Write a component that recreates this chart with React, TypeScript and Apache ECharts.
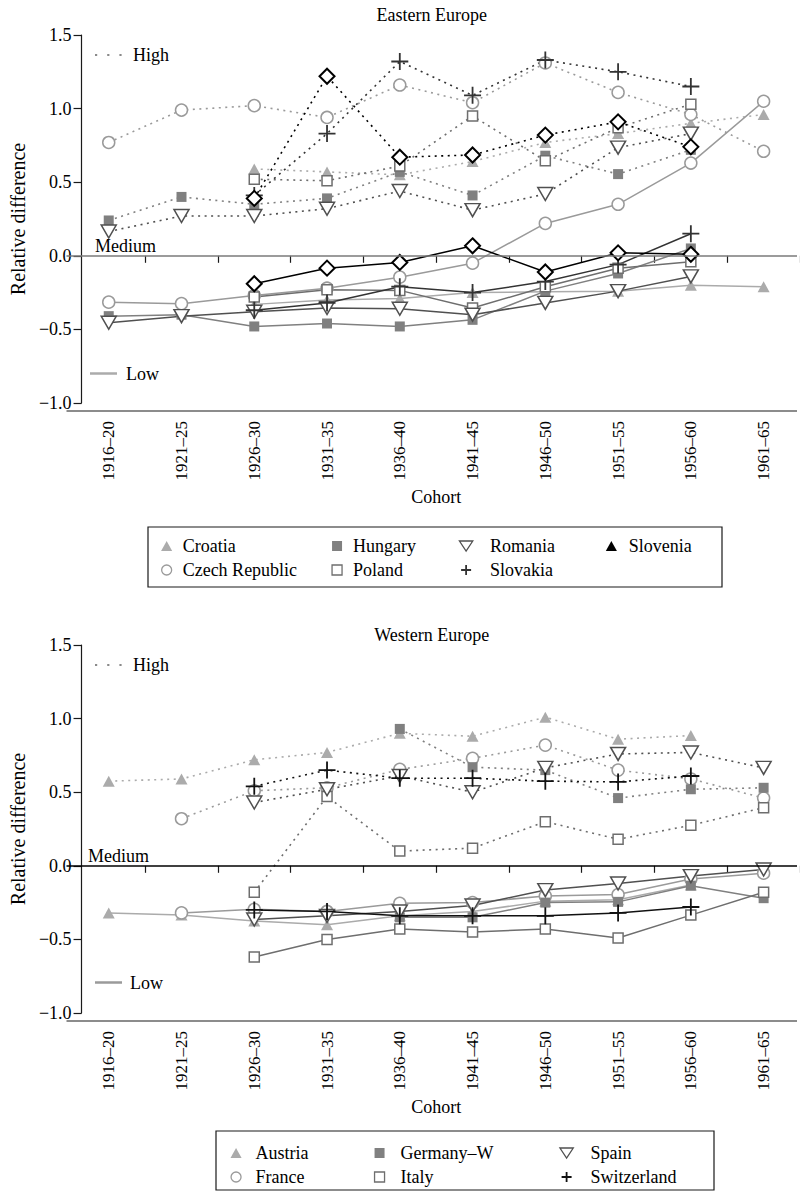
import React, { useEffect, useRef } from 'react';
import * as echarts from 'echarts';

// ---------- data ----------
const cohorts = ['1916–20', '1921–25', '1926–30', '1931–35', '1936–40', '1941–45', '1946–50', '1951–55', '1956–60', '1961–65'];
const panelTitles = ['Eastern Europe', 'Western Europe'];
const yMin = -1.0;
const yMax = 1.5;
const yStep = 0.5;

// Eastern Europe, High (dotted)
const croatiaHigh = [null, null, 0.59, 0.57, 0.55, 0.64, 0.77, 0.83, 0.90, 0.96];
const czechHigh = [0.77, 0.99, 1.02, 0.94, 1.16, 1.04, 1.31, 1.11, 0.96, 0.71];
const hungaryHigh = [0.24, 0.40, 0.35, 0.39, 0.57, 0.41, 0.68, 0.555, 0.72, null];
const polandHigh = [null, null, 0.52, 0.51, 0.61, 0.95, 0.645, 0.87, 1.03, null];
const romaniaHigh = [0.165, 0.27, 0.27, 0.32, 0.44, 0.31, 0.42, 0.735, 0.83, null];
const slovakiaHigh = [null, null, 0.41, 0.83, 1.32, 1.09, 1.33, 1.25, 1.15, null];
const sloveniaHigh = [null, null, 0.39, 1.22, 0.67, 0.685, 0.82, 0.91, 0.74, null];

// Eastern Europe, Low (solid)
const croatiaLow = [null, null, -0.33, -0.30, -0.29, -0.25, -0.245, -0.24, -0.20, -0.21];
const czechLow = [-0.315, -0.325, -0.27, -0.22, -0.145, -0.05, 0.22, 0.35, 0.63, 1.05];
const hungaryLow = [-0.41, -0.40, -0.48, -0.46, -0.48, -0.435, -0.24, -0.12, 0.05, null];
const polandLow = [null, null, -0.28, -0.23, -0.235, -0.355, -0.21, -0.085, -0.04, null];
const romaniaLow = [-0.455, -0.41, -0.38, -0.355, -0.36, -0.40, -0.32, -0.24, -0.14, null];
const slovakiaLow = [null, null, -0.37, -0.32, -0.21, -0.25, -0.175, -0.06, 0.15, null];
const sloveniaLow = [null, null, -0.19, -0.084, -0.045, 0.068, -0.11, 0.02, 0.01, null];

// Western Europe, High (dotted)
const austriaHigh = [0.575, 0.59, 0.72, 0.77, 0.90, 0.88, 1.01, 0.86, 0.885, null];
const franceHigh = [null, 0.32, 0.51, 0.53, 0.655, 0.73, 0.82, 0.65, 0.59, 0.46];
const germanyHigh = [null, null, null, null, 0.93, 0.67, 0.65, 0.46, 0.52, 0.53];
const italyHigh = [null, null, -0.18, 0.47, 0.10, 0.12, 0.30, 0.18, 0.275, 0.395];
const spainHigh = [null, null, 0.43, 0.52, 0.61, 0.50, 0.665, 0.76, 0.77, 0.665];
const switzerlandHigh = [null, null, 0.54, 0.65, 0.595, 0.595, 0.575, 0.57, 0.61, null];

// Western Europe, Low (solid)
const austriaLow = [-0.32, -0.335, -0.375, -0.40, -0.34, -0.31, -0.24, -0.23, -0.13, null];
const franceLow = [null, -0.32, -0.295, -0.31, -0.255, -0.25, -0.205, -0.195, -0.09, -0.05];
const germanyLow = [null, null, null, null, -0.35, -0.35, -0.25, -0.245, -0.135, -0.22];
const italyLow = [null, null, -0.62, -0.50, -0.43, -0.45, -0.43, -0.49, -0.335, -0.18];
const spainLow = [null, null, -0.365, -0.34, -0.31, -0.27, -0.165, -0.12, -0.07, -0.025];
const switzerlandLow = [null, null, -0.30, -0.31, -0.34, -0.34, -0.34, -0.32, -0.28, null];

// ---------- styles ----------
const FONT = 'Liberation Serif, serif';

type Sty = { symbol: string; size: any; rotate?: number; item: any; color: string; icon: string; iconItem: any };

const P_TRI_UP = 'path://M5,0L10,9L0,9Z';
const P_TRI_DOWN = 'path://M0,0L12,0L6,9Z';
const P_SQ = 'path://M0,0L10,0L10,10L0,10Z';
const P_CIRC = 'path://M10,5A5,5,0,1,1,0,5A5,5,0,1,1,10,5Z';
const P_PLUS = 'path://M0,5L10,5M5,0L5,10';

const triUp = (c: string): Sty => ({ symbol: 'triangle', size: [12, 11], item: { color: c, borderWidth: 0 }, color: c, icon: P_TRI_UP, iconItem: { color: c, borderWidth: 0 } });
const circOpen = (c: string): Sty => ({ symbol: 'circle', size: 12, item: { color: '#fff', borderColor: c, borderWidth: 1.5 }, color: c, icon: P_CIRC, iconItem: { color: '#fff', borderColor: c, borderWidth: 1.3 } });
const sqFill = (c: string): Sty => ({ symbol: 'rect', size: 10, item: { color: c, borderWidth: 0 }, color: c, icon: P_SQ, iconItem: { color: c, borderWidth: 0 } });
const sqOpen = (c: string): Sty => ({ symbol: 'rect', size: 10, item: { color: '#fff', borderColor: c, borderWidth: 1.5 }, color: c, icon: P_SQ, iconItem: { color: '#fff', borderColor: c, borderWidth: 1.3 } });
const triDown = (c: string): Sty => ({ symbol: 'triangle', rotate: 180, size: [15, 13], item: { color: '#fff', borderColor: c, borderWidth: 1.5 }, color: c, icon: P_TRI_DOWN, iconItem: { color: '#fff', borderColor: c, borderWidth: 1.3 } });
const plus = (c: string): Sty => ({ symbol: P_PLUS, size: 17, item: { color: 'none', borderColor: c, borderWidth: 1.8 }, color: c, icon: P_PLUS, iconItem: { color: 'none', borderColor: c, borderWidth: 1.8 } });
const diamond = (c: string): Sty => ({ symbol: 'diamond', size: [15, 15], item: { color: '#fff', borderColor: c, borderWidth: 2 }, color: c, icon: P_TRI_UP, iconItem: { color: c, borderWidth: 0 } });

type Country = { name: string; high: (number | null)[]; low: (number | null)[]; sty: Sty };

const east: Country[] = [
  { name: 'Croatia', high: croatiaHigh, low: croatiaLow, sty: triUp('#ababab') },
  { name: 'Czech Republic', high: czechHigh, low: czechLow, sty: circOpen('#9a9a9a') },
  { name: 'Hungary', high: hungaryHigh, low: hungaryLow, sty: sqFill('#808080') },
  { name: 'Poland', high: polandHigh, low: polandLow, sty: sqOpen('#6e6e6e') },
  { name: 'Romania', high: romaniaHigh, low: romaniaLow, sty: triDown('#505050') },
  { name: 'Slovakia', high: slovakiaHigh, low: slovakiaLow, sty: plus('#333333') },
  { name: 'Slovenia', high: sloveniaHigh, low: sloveniaLow, sty: diamond('#000000') },
];

const west: Country[] = [
  { name: 'Austria', high: austriaHigh, low: austriaLow, sty: triUp('#ababab') },
  { name: 'France', high: franceHigh, low: franceLow, sty: circOpen('#9a9a9a') },
  { name: 'Germany–W', high: germanyHigh, low: germanyLow, sty: sqFill('#808080') },
  { name: 'Italy', high: italyHigh, low: italyLow, sty: sqOpen('#6e6e6e') },
  { name: 'Spain', high: spainHigh, low: spainLow, sty: triDown('#505050') },
  { name: 'Switzerland', high: switzerlandHigh, low: switzerlandLow, sty: plus('#111111') },
];

// ---------- layout ----------
const GRID_LEFT = 57.3;
const GRID_W = 753.5;
const GRID_H = 368;
const GRID_TOPS = [35, 645];
const AXIS_X0 = 66.5;
const AXIS_X1 = 797;

function makeSeries(c: Country, gi: number, kind: 'high' | 'low', markMedium: string | null) {
  const s: any = {
    type: 'line',
    name: c.name,
    data: kind === 'high' ? c.high : c.low,
    xAxisIndex: gi,
    yAxisIndex: gi,
    symbol: c.sty.symbol,
    symbolSize: c.sty.size,
    symbolRotate: c.sty.rotate || 0,
    showSymbol: true,
    showAllSymbol: true,
    connectNulls: false,
    silent: true,
    itemStyle: c.sty.item,
    lineStyle: kind === 'high'
      ? { color: c.sty.color, width: 1.6, type: [2, 4.5] }
      : { color: c.sty.color, width: 1.5, type: 'solid' },
    emphasis: { disabled: true },
  };
  if (markMedium) {
    s.markLine = {
      silent: true,
      symbol: ['none', 'none'],
      label: { show: false },
      lineStyle: { color: markMedium, width: 1.5, type: 'solid' },
      data: [[{ x: AXIS_X0, yAxis: 0 }, { x: AXIS_X1, yAxis: 0 }]],
    };
  }
  return s;
}

function legendCol(left: number, top: number, itemWidth: number, items: Country[]) {
  return {
    orient: 'vertical',
    left,
    top,
    padding: 0,
    itemWidth,
    itemHeight: 10,
    itemGap: 6,
    selectedMode: false,
    symbolKeepAspect: true,
    textStyle: { fontFamily: FONT, fontSize: 18, color: '#000', lineHeight: 18 },
    data: items.map((c) => ({ name: c.name, icon: c.sty.icon, itemStyle: c.sty.iconItem })),
  };
}

export default function App() {
  const ref = useRef<HTMLDivElement>(null);

  useEffect(() => {
    if (!ref.current) return;
    const chart = echarts.init(ref.current, undefined, { renderer: 'svg' });

    const series: any[] = [];
    [east, west].forEach((group, gi) => {
      group.forEach((c, i) => {
        series.push(makeSeries(c, gi, 'high', i === 0 ? (gi === 0 ? '#7a7a7a' : '#000') : null));
      });
      group.forEach((c) => {
        series.push(makeSeries(c, gi, 'low', null));
      });
    });
    // draw the diamonds (Slovenia) on top
    series.sort((a, b) => (a.name === 'Slovenia' ? 1 : 0) - (b.name === 'Slovenia' ? 1 : 0));

    const xAxes = GRID_TOPS.map((_, gi) => ({
      type: 'category',
      gridIndex: gi,
      data: cohorts,
      boundaryGap: true,
      offset: 8,
      axisLine: { show: false },
      axisTick: { show: true, length: 7, interval: (i: number) => i !== 0, lineStyle: { color: '#1a1a1a', width: 1.2 } },
      axisLabel: { interval: 0, rotate: 90, margin: 10, fontFamily: FONT, fontSize: 17, color: '#000' },
      name: 'Cohort',
      nameLocation: 'middle',
      nameGap: 77,
      nameTextStyle: { fontFamily: FONT, fontSize: 18, color: '#000' },
      splitLine: { show: false },
    }));

    const yAxes = GRID_TOPS.map((_, gi) => ({
      type: 'value',
      gridIndex: gi,
      min: yMin,
      max: yMax,
      interval: yStep,
      offset: -(AXIS_X0 - GRID_LEFT),
      axisLine: { show: true, lineStyle: { color: '#1a1a1a', width: 1.2 } },
      axisTick: { show: true, length: 8, lineStyle: { color: '#1a1a1a', width: 1.2 } },
      axisLabel: {
        margin: 10,
        fontFamily: FONT,
        fontSize: 18,
        color: '#000',
        formatter: (v: number) => (v < 0 ? '\u2212' + Math.abs(v).toFixed(1) : v.toFixed(1)),
      },
      splitLine: { show: false },
      name: 'Relative difference',
      nameLocation: 'middle',
      nameGap: 47,
      nameTextStyle: { fontFamily: FONT, fontSize: 20, color: '#000' },
    }));

    const text = (t: string, x: number, y: number) => ({
      type: 'text', x, y, silent: true,
      style: { text: t, fontFamily: FONT, fontSize: 18, fill: '#000', textVerticalAlign: 'middle', verticalAlign: 'middle' },
    });
    const hline = (x1: number, x2: number, y: number, stroke: string, width: number, dash?: number[]) => ({
      type: 'line', silent: true,
      shape: { x1, y1: y, x2, y2: y },
      style: { stroke, lineWidth: width, lineDash: dash },
    });

    const graphic: any[] = [
      // x-axis lines
      hline(AXIS_X0, AXIS_X1, 411, '#1a1a1a', 1.2),
      hline(AXIS_X0, AXIS_X1, 1021, '#1a1a1a', 1.2),
      // line-type keys, top
      hline(95, 124, 55, '#8a8a8a', 2.2, [2.2, 10]),
      text('High', 133, 55),
      text('Medium', 95, 246),
      hline(90, 117, 373.5, '#ababab', 2.5),
      text('Low', 126, 373.5),
      // line-type keys, bottom
      hline(95, 124, 665, '#8a8a8a', 2.2, [2.2, 10]),
      text('High', 133, 665),
      text('Medium', 88, 856),
      hline(95, 122, 982.5, '#9a9a9a', 2.5),
      text('Low', 130, 982.5),
      // legend frames
      { type: 'rect', silent: true, shape: { x: 148, y: 527, width: 574, height: 60 }, style: { fill: 'none', stroke: '#1a1a1a', lineWidth: 1.2 } },
      { type: 'rect', silent: true, shape: { x: 216, y: 1131, width: 498, height: 59 }, style: { fill: 'none', stroke: '#1a1a1a', lineWidth: 1.2 } },
    ];

    const legends = [
      legendCol(161, 537, 22, [east[0], east[1]]),
      legendCol(331.4, 537, 22, [east[2], east[3]]),
      legendCol(458.6, 537, 38, [east[4], east[5]]),
      legendCol(605.8, 537, 25, [east[6]]),
      legendCol(230.4, 1144, 29, [west[0], west[1]]),
      legendCol(373.9, 1144, 32, [west[2], west[3]]),
      legendCol(559.1, 1144, 38, [west[4], west[5]]),
    ];

    chart.setOption({
      animation: false,
      backgroundColor: '#fff',
      title: panelTitles.map((t, gi) => ({
        text: t,
        left: (AXIS_X0 + AXIS_X1) / 2,
        textAlign: 'center',
        top: gi === 0 ? 6 : 626,
        padding: 0,
        textStyle: { fontFamily: FONT, fontSize: 18, fontWeight: 'normal', color: '#000' },
      })),
      grid: GRID_TOPS.map((top) => ({ left: GRID_LEFT, top, width: GRID_W, height: GRID_H, containLabel: false })),
      xAxis: xAxes,
      yAxis: yAxes,
      legend: legends,
      series,
      graphic,
    });

    return () => chart.dispose();
  }, []);

  return <div ref={ref} style={{ position: 'absolute', left: 0, top: 0, width: 800, height: 1196 }} />;
}
